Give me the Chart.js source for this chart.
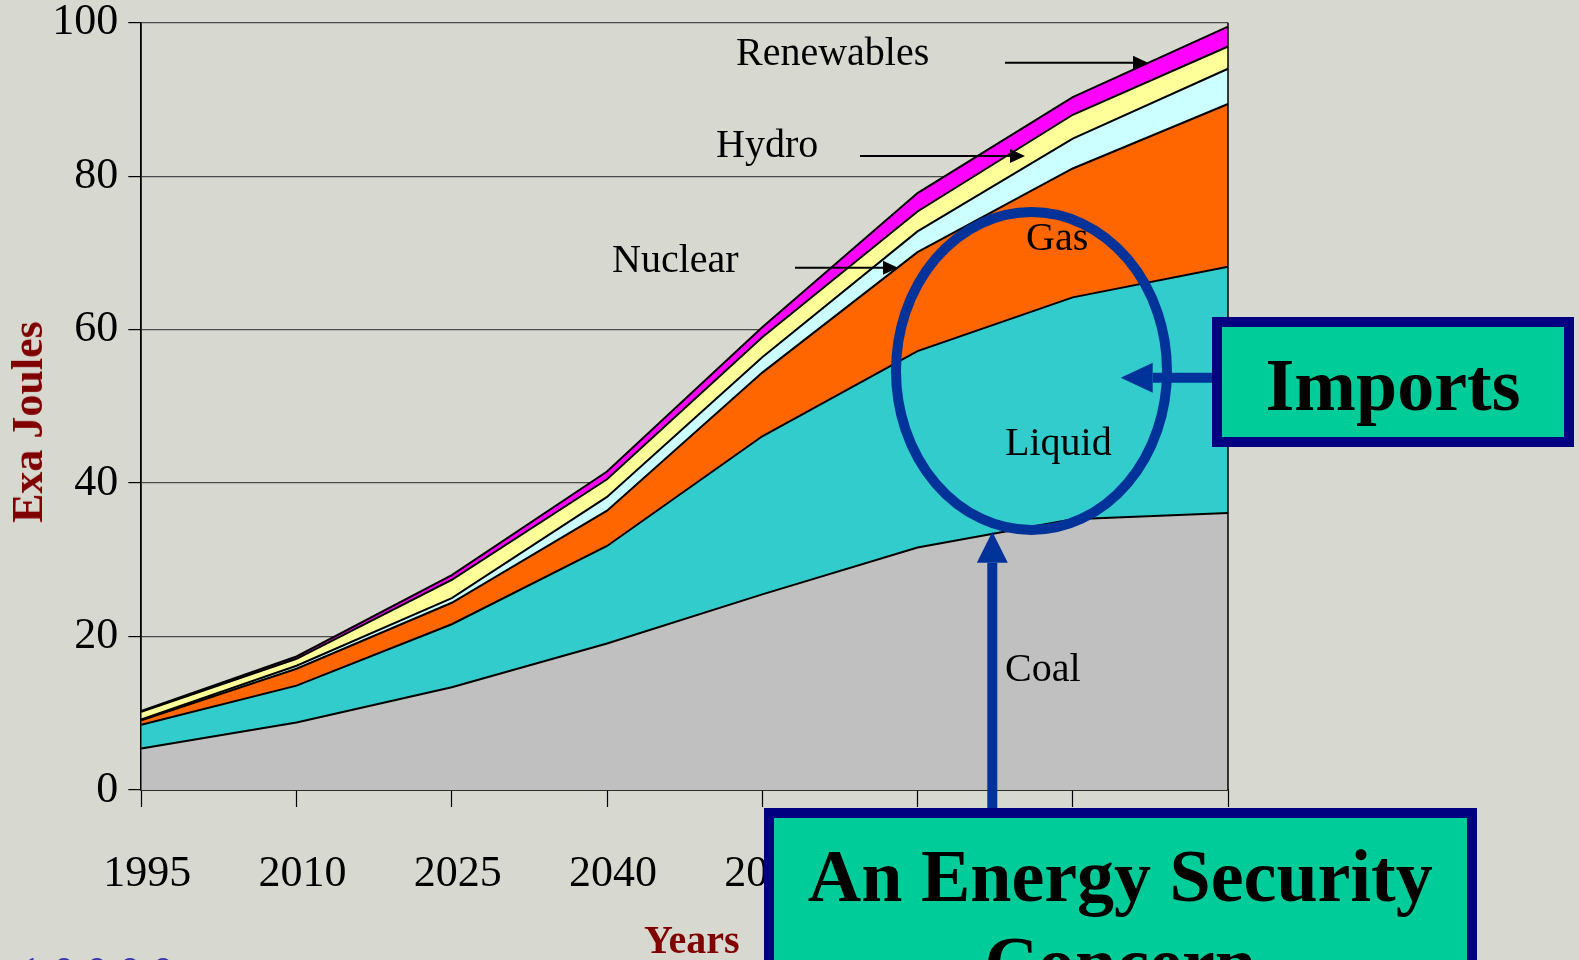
<!DOCTYPE html>
<html><head><meta charset="utf-8">
<script src="https://cdn.jsdelivr.net/npm/chart.js@4.4.0/dist/chart.umd.min.js"></script>
<style>
html,body{margin:0;padding:0;background:#D7D8D0;overflow:hidden}
#wrap{position:relative;width:1579px;height:960px;overflow:hidden}
canvas{position:absolute;left:0;top:0}
.lbl{position:absolute;font-family:"Liberation Serif","Times New Roman",serif;line-height:1;white-space:nowrap;color:#000;font-size:40px}
.box{position:absolute;background:#00CC99;border:10px solid #000080;box-sizing:border-box}
.bt{position:absolute;left:0;right:0;text-align:center;font-family:"Liberation Serif","Times New Roman",serif;font-weight:bold;font-size:74px;line-height:1;color:#000;white-space:nowrap}
</style></head>
<body><div id="wrap">
<canvas id="c" width="1579" height="960"></canvas>
<div class="lbl" style="left:736px;top:31.5px">Renewables</div>
<div class="lbl" style="left:716px;top:123.5px">Hydro</div>
<div class="lbl" style="left:612px;top:238.5px">Nuclear</div>
<div class="lbl" style="left:1026px;top:216.5px">Gas</div>
<div class="lbl" style="left:1005px;top:421.5px">Liquid</div>
<div class="lbl" style="left:1005px;top:647.5px">Coal</div>
<div class="lbl" style="left:28px;top:422px;font-size:44px;font-weight:bold;color:#800000;transform:translate(-50%,-50%) rotate(-90deg);transform-origin:50% 50%">Exa Joules</div>
<div class="lbl" style="left:644px;top:919.5px;font-weight:bold;color:#800000">Years</div>
<div class="lbl" style="left:20px;top:951px;font-size:44px;color:#3333AA;letter-spacing:11px">10000</div>
<div class="box" style="left:1212px;top:317px;width:362px;height:130px"><div class="bt" style="top:21px">Imports</div></div>
<div class="box" style="left:763.5px;top:808px;width:713.5px;height:300px"><div class="bt" style="top:21px">An Energy Security</div><div class="bt" style="top:108px">Concern</div></div>
</div>
<script>
const years = ['1995','2010','2025','2040','2055','2070','2085','2100'];
const coal       = [5.4, 8.8, 13.4, 19.1, 25.5, 31.6, 35.3, 36.1];
const liquid     = [3.1, 4.8, 8.2, 12.7, 20.6, 25.6, 28.9, 32.1];
const gas        = [0.6, 2.2, 2.8, 4.6, 8.3, 12.9, 16.8, 21.2];
const nuclear    = [0.1, 0.4, 0.6, 1.8, 2.0, 2.7, 3.9, 4.6];
const hydro      = [1.0, 0.9, 2.4, 2.3, 2.6, 2.6, 3.1, 2.9];
const renewables = [0.1, 0.3, 0.6, 1.0, 1.3, 2.4, 2.3, 2.6];
const yTicks = [0, 20, 40, 60, 80, 100];

function arrow(ctx, x1, y1, x2, y2, w, hl, hw, col){
  const a = Math.atan2(y2-y1, x2-x1);
  const bx = x2 - Math.cos(a)*hl, by = y2 - Math.sin(a)*hl;
  ctx.strokeStyle = col; ctx.fillStyle = col; ctx.lineWidth = w; ctx.lineCap='butt';
  ctx.beginPath(); ctx.moveTo(x1,y1); ctx.lineTo(bx,by); ctx.stroke();
  ctx.beginPath();
  ctx.moveTo(x2,y2);
  ctx.lineTo(bx + Math.sin(a)*hw, by - Math.cos(a)*hw);
  ctx.lineTo(bx - Math.sin(a)*hw, by + Math.cos(a)*hw);
  ctx.closePath(); ctx.fill();
}

const deco = {
  id:'deco',
  afterDraw(chart){
    const ctx = chart.ctx, ca = chart.chartArea;
    ctx.save();
    ctx.strokeStyle='#000'; ctx.lineWidth=1.5;
    ctx.beginPath(); ctx.moveTo(ca.right, ca.top); ctx.lineTo(ca.right, ca.bottom); ctx.stroke();
    arrow(ctx, 1005, 62.7, 1148, 62.7, 2, 15, 7, '#000');
    arrow(ctx, 860, 156, 1025, 156, 2, 15, 7, '#000');
    arrow(ctx, 795, 267.7, 898, 267.7, 2, 15, 7, '#000');
    ctx.strokeStyle='#003399'; ctx.lineWidth=10;
    ctx.beginPath(); ctx.ellipse(1031.5, 371, 135.5, 159, 0, 0, Math.PI*2); ctx.stroke();
    arrow(ctx, 1214, 377.7, 1120.7, 377.7, 10, 32, 15, '#003399');
    arrow(ctx, 992.3, 815, 992.3, 531.7, 10, 31, 15.5, '#003399');
    ctx.restore();
  }
};

function ds(label, data, color, fill){
  return {label, data, backgroundColor: color, borderColor:'#000', borderWidth:2,
    fill, pointRadius:0, tension:0};
}

new Chart(document.getElementById('c'), {
  type:'line',
  data:{ labels: years, datasets:[
    ds('Coal', coal, '#C0C0C0', 'origin'),
    ds('Liquid', liquid, '#33CCCC', '-1'),
    ds('Gas', gas, '#FF6600', '-1'),
    ds('Nuclear', nuclear, '#CCFFFF', '-1'),
    ds('Hydro', hydro, '#FFFF99', '-1'),
    ds('Renewables', renewables, '#FF00FF', '-1')
  ]},
  options:{
    responsive:false, animation:false, devicePixelRatio:1,
    layout:{padding:{top:22.7, right:351, left:0, bottom:0}},
    plugins:{legend:{display:false}, tooltip:{enabled:false}},
    scales:{
      x:{ type:'category', offset:false,
        grid:{display:true, drawOnChartArea:false, tickLength:17, tickColor:'#000', tickWidth:1.2},
        border:{display:true, color:'#000', width:1.8},
        ticks:{color:'#000', font:{family:'"Liberation Serif", serif', size:44, lineHeight:1}, padding:45, labelOffset:6, maxRotation:0, autoSkip:false},
        afterFit(s){ s.height = 170; s.paddingLeft = 0; s.paddingRight = 0; }
      },
      y:{ stacked:true, min:0, max:100,
        afterBuildTicks(s){ s.ticks = yTicks.map(v=>({value:v})); },
        grid:{color:'#4a4a4a', lineWidth:1.2, tickLength:13, tickColor:'#000', tickWidth:1.2},
        border:{display:true, color:'#000', width:1.8},
        ticks:{color:'#000', font:{family:'"Liberation Serif", serif', size:44, lineHeight:1}, padding:10},
        afterFit(s){ s.width = 141.3; s.paddingTop = 0; s.paddingBottom = 0; }
      }
    }
  },
  plugins:[deco]
});
</script>
</body></html>
